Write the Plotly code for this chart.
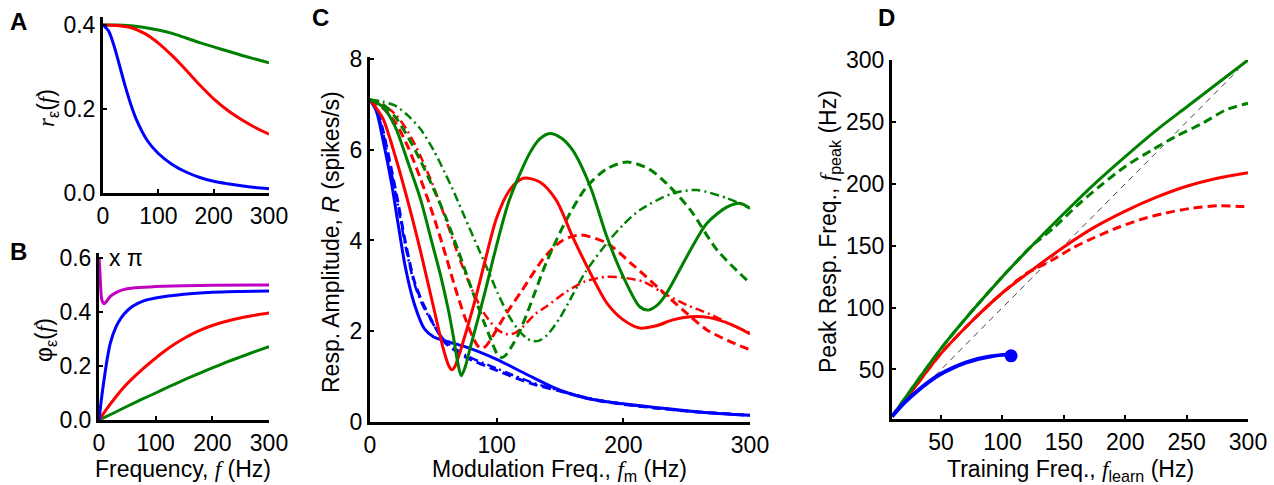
import plotly.graph_objects as go

# ---------------- Panel A : r_eps(f) ----------------
a_f = [0, 10, 20, 30, 40, 50, 60, 80, 100, 125, 150, 175, 200, 225, 250, 275, 300]
a_blue = [0.400, 0.386, 0.350, 0.303, 0.255, 0.212, 0.176, 0.125, 0.094, 0.068, 0.050, 0.037, 0.028, 0.022, 0.017, 0.013, 0.010]
a_f2 = [0, 25, 50, 75, 100, 125, 150, 175, 200, 225, 250, 275, 300]
a_red = [0.400, 0.399, 0.394, 0.380, 0.357, 0.327, 0.293, 0.257, 0.224, 0.197, 0.175, 0.156, 0.140]
a_green = [0.400, 0.400, 0.398, 0.394, 0.388, 0.380, 0.369, 0.358, 0.348, 0.338, 0.328, 0.319, 0.310]

# ---------------- Panel B : phi_eps(f) (x pi) ----------------
b_mag_f = [0, 1, 2, 3, 4, 5, 7, 9, 12, 16, 20, 30, 43, 60, 90, 150, 200, 300]
b_mag = [0.60, 0.57, 0.53, 0.49, 0.46, 0.445, 0.435, 0.431, 0.436, 0.447, 0.458, 0.472, 0.483, 0.489, 0.493, 0.497, 0.499, 0.500]
b_blue_f = [0, 5, 10, 15, 20, 30, 40, 50, 60, 80, 100, 150, 200, 250, 300]
b_blue = [0.0, 0.090, 0.165, 0.232, 0.285, 0.345, 0.381, 0.405, 0.422, 0.442, 0.452, 0.466, 0.473, 0.476, 0.478]
b_red_f = [0, 15, 31, 45, 60, 75, 90, 105, 119, 135, 149, 165, 178, 200, 237, 270, 300]
b_red = [0.0, 0.045, 0.089, 0.124, 0.156, 0.185, 0.212, 0.238, 0.260, 0.283, 0.301, 0.319, 0.332, 0.350, 0.372, 0.386, 0.396]
b_green_f = [0, 25, 50, 75, 100, 125, 150, 175, 200, 225, 250, 275, 300]
b_green = [0.0, 0.025, 0.051, 0.076, 0.100, 0.125, 0.149, 0.171, 0.193, 0.214, 0.234, 0.253, 0.272]

# ---------------- Panel C : response amplitude R(f_m) ----------------
c_blue_f = [0, 5, 10, 17, 22, 28, 35, 43, 50, 60, 75, 100, 125, 150, 175, 200, 225, 250, 275, 300]
c_blue_solid = [7.1, 6.85, 6.25, 5.26, 4.4, 3.4, 2.6, 2.05, 1.88, 1.78, 1.66, 1.38, 1.03, 0.70, 0.50, 0.40, 0.32, 0.25, 0.19, 0.15]
c_blue_f2 = [0, 5, 10, 17, 22, 28, 35, 42, 49, 59, 75, 100, 127, 150, 175, 200, 225, 250, 275, 300]
c_blue_dash = [7.1, 6.9, 6.45, 5.55, 4.85, 3.95, 3.1, 2.6, 2.22, 1.76, 1.44, 1.14, 0.85, 0.68, 0.50, 0.39, 0.31, 0.24, 0.19, 0.15]
c_blue_dashdot = [7.1, 6.88, 6.4, 5.48, 4.78, 3.88, 3.05, 2.55, 2.2, 1.79, 1.48, 1.18, 0.88, 0.69, 0.51, 0.40, 0.31, 0.24, 0.19, 0.15]

c_red_solid_f = [0, 10, 20, 30, 40, 50, 58, 62, 64.5, 67, 70, 76, 83, 91, 100, 110, 121, 134, 147, 160, 174, 187, 200, 213, 226, 239, 253, 268, 285, 300]
c_red_solid = [7.1, 6.7, 5.85, 4.85, 3.75, 2.55, 1.6, 1.25, 1.15, 1.22, 1.45, 2.0, 2.69, 3.57, 4.5, 5.1, 5.37, 5.29, 4.89, 4.08, 3.28, 2.62, 2.25, 2.07, 2.12, 2.25, 2.32, 2.3, 2.15, 1.94]
c_red_dash_f = [0, 10, 20, 30, 40, 50, 60, 67, 75, 81, 85, 88, 91, 96, 106, 120, 138, 152, 166, 187, 208, 229, 247, 266, 282, 300]
c_red_dash = [7.1, 6.92, 6.6, 6.06, 5.35, 4.55, 3.65, 2.98, 2.3, 1.88, 1.68, 1.62, 1.66, 1.85, 2.32, 2.9, 3.64, 4.0, 4.12, 3.94, 3.45, 2.92, 2.47, 2.03, 1.8, 1.59]
c_red_dd_f = [0, 10, 20, 30, 40, 50, 60, 70, 80, 90, 100, 106, 110, 115, 120, 131, 139, 155, 170, 187, 200, 216, 231, 250, 268, 285, 300]
c_red_dashdot = [7.1, 7.0, 6.78, 6.4, 5.85, 5.2, 4.45, 3.65, 2.95, 2.4, 2.05, 1.95, 1.93, 1.97, 2.08, 2.39, 2.54, 2.87, 3.1, 3.2, 3.18, 3.09, 2.85, 2.58, 2.38, 2.15, 1.96]

c_green_solid_f = [0, 10, 20, 30, 40, 48, 56, 62, 66, 69, 72, 75, 80, 86, 92, 99, 110, 126, 134, 142, 151, 160, 174, 187, 200, 213, 220, 227, 234, 253, 266, 282, 292, 300]
c_green_solid = [7.1, 6.95, 6.5, 5.72, 4.9, 4.05, 3.2, 2.45, 1.85, 1.35, 1.02, 1.2, 1.73, 2.35, 3.0, 3.79, 4.89, 5.92, 6.24, 6.36, 6.26, 5.99, 5.18, 4.08, 3.2, 2.54, 2.47, 2.58, 2.83, 3.79, 4.38, 4.74, 4.82, 4.71]
c_green_dash_f = [0, 10, 20, 30, 40, 50, 60, 70, 80, 90, 96, 100, 104, 108, 113, 118, 126, 139, 155, 171, 187, 203, 220, 234, 253, 274, 300]
c_green_dash = [7.1, 7.0, 6.72, 6.28, 5.75, 5.15, 4.5, 3.75, 2.95, 2.2, 1.78, 1.52, 1.42, 1.5, 1.72, 1.98, 2.54, 3.5, 4.45, 5.18, 5.58, 5.73, 5.58, 5.26, 4.67, 3.79, 3.06]
c_green_dd_f = [0, 10, 20, 30, 40, 50, 59, 67, 75, 85, 93, 101, 110, 118, 124, 129, 134, 140, 150, 160, 170, 187, 200, 213, 239, 258, 282, 300]
c_green_dashdot = [7.1, 7.06, 6.97, 6.75, 6.45, 6.0, 5.5, 5.02, 4.5, 3.86, 3.35, 2.83, 2.32, 2.0, 1.84, 1.78, 1.8, 1.92, 2.3, 2.8, 3.3, 3.94, 4.35, 4.67, 5.04, 5.11, 4.93, 4.71]

# ---------------- Panel D : peak response frequency vs training frequency ----------------
d_green_f = [10, 25, 50, 75, 100, 125, 150, 175, 200, 225, 250, 275, 300]
d_green_solid = [12, 33, 67, 97, 125, 151, 176, 200, 222, 243, 262, 281, 300]
d_green_dash_f = [10, 25, 50, 75, 100, 125, 131, 143, 160, 179, 200, 222, 241, 263, 282, 300]
d_green_dash = [12, 33, 67, 97, 125, 151, 155.5, 165.6, 181.7, 197.8, 214, 227.4, 238.1, 248.9, 259.7, 265]
d_red_f = [10, 25, 50, 75, 100, 125, 150, 175, 200, 225, 250, 275, 300]
d_red_solid = [12, 31, 63, 89, 112, 131, 149, 165, 178, 189, 198, 204.5, 209]
d_red_dash_f = [10, 25, 50, 75, 100, 120, 125, 141, 157, 174, 193, 212, 233, 255, 277, 293, 300]
d_red_dash = [12, 31, 63, 89, 112, 128, 130.5, 138.7, 148.1, 156.2, 164.3, 171, 176.4, 180.4, 182.3, 181.7, 181.5]
d_blue_f = [10, 20, 30, 40, 50, 60, 70, 80, 90, 100, 105]
d_blue = [12, 23, 32, 40, 46.5, 51.5, 55.5, 58.5, 60.5, 61.8, 62]
d_blue_end = [107, 61]
d_diag = [45, 292]

BLUE = "#0000FF"
RED = "#FF0000"
GREEN = "#008000"
MAG = "#C000C0"
DASH = "9px,5px"
DASHDOT = "9px,4px,2px,4px"
FONT = "Liberation Sans, Arial, sans-serif"
W, H = 1274, 485
TICK_SIZE = 23
TITLE_SIZE = 23

fig = go.Figure()


def add(x, y, color, ax, dash="solid", width=3.0, shape="spline"):
    fig.add_trace(go.Scatter(
        x=x, y=y, mode="lines", xaxis="x" + ax, yaxis="y" + ax,
        line=dict(color=color, width=width, dash=dash, shape=shape, smoothing=0.8),
        showlegend=False, hoverinfo="skip"))


# A
add(a_f2, a_green, GREEN, "")
add(a_f2, a_red, RED, "")
add(a_f, a_blue, BLUE, "")
# B
add(b_green_f, b_green, GREEN, "2")
add(b_red_f, b_red, RED, "2")
add(b_blue_f, b_blue, BLUE, "2")
add(b_mag_f, b_mag, MAG, "2")
# C
add(c_blue_f2, c_blue_dashdot, BLUE, "3", DASHDOT, 2.5)
add(c_blue_f2, c_blue_dash, BLUE, "3", DASH)
add(c_blue_f, c_blue_solid, BLUE, "3")
add(c_red_dd_f, c_red_dashdot, RED, "3", DASHDOT, 2.5)
add(c_red_dash_f, c_red_dash, RED, "3", DASH)
add(c_green_dd_f, c_green_dashdot, GREEN, "3", DASHDOT, 2.5)
add(c_green_dash_f, c_green_dash, GREEN, "3", DASH)
add(c_red_solid_f, c_red_solid, RED, "3")
add(c_green_solid_f, c_green_solid, GREEN, "3")
# D
fig.add_trace(go.Scatter(x=d_diag, y=d_diag, mode="lines", xaxis="x4", yaxis="y4",
                         line=dict(color="#444444", width=1, dash="6px,5px"),
                         showlegend=False, hoverinfo="skip"))
add(d_red_dash_f, d_red_dash, RED, "4", DASH)
add(d_red_f, d_red_solid, RED, "4")
add(d_green_dash_f, d_green_dash, GREEN, "4", DASH)
add(d_green_f, d_green_solid, GREEN, "4")
add(d_blue_f, d_blue, BLUE, "4", width=4)
fig.add_trace(go.Scatter(x=[d_blue_end[0]], y=[d_blue_end[1]], mode="markers", xaxis="x4", yaxis="y4",
                         marker=dict(color=BLUE, size=13), showlegend=False, hoverinfo="skip"))


def px_x(p):
    return p / W


def px_y(p):
    return 1 - p / H


def axis(domain, rng, tickvals, ticktext=None, anchor=None):
    d = dict(domain=domain, range=rng, tickvals=tickvals, showline=True, linecolor="black",
             linewidth=3, ticks="inside", ticklen=4, tickwidth=2, tickcolor="black",
             showgrid=False, zeroline=False, fixedrange=True, automargin=False,
             tickfont=dict(family=FONT, size=TICK_SIZE, color="black"), anchor=anchor)
    if ticktext is not None:
        d["ticktext"] = ticktext
    return d


layout = dict(
    width=W, height=H, autosize=False, margin=dict(l=0, r=0, t=0, b=0, pad=0),
    paper_bgcolor="white", plot_bgcolor="white", showlegend=False,
    xaxis=axis([px_x(103), px_x(269)], [0, 300], [0, 100, 200, 300], anchor="y"),
    yaxis=axis([px_y(193), px_y(16.6)], [0, 0.42], [0, 0.2, 0.4], ["0.0", "0.2", "0.4"], anchor="x"),
    xaxis2=axis([px_x(99), px_x(269)], [0, 300], [0, 100, 200, 300], anchor="y2"),
    yaxis2=axis([px_y(420), px_y(252.6)], [0, 0.62], [0, 0.2, 0.4, 0.6], ["0.0", "0.2", "0.4", "0.6"], anchor="x2"),
    xaxis3=axis([px_x(370), px_x(750)], [0, 300], [0, 100, 200, 300], anchor="y3"),
    yaxis3=axis([px_y(422), px_y(56.7)], [0, 8.05], [0, 2, 4, 6, 8], anchor="x3"),
    xaxis4=axis([px_x(892), px_x(1248)], [10, 300], [50, 100, 150, 200, 250, 300], anchor="y4"),
    yaxis4=axis([px_y(419), px_y(60)], [10, 300], [50, 100, 150, 200, 250, 300], anchor="x4"),
)
fig.update_layout(**layout)

SERIF_F = '<span style="font-family:Liberation Serif"><i>f</i></span>'


def note(text, x, y, size=TITLE_SIZE, angle=0, bold=False):
    fig.add_annotation(text=("<b>%s</b>" % text) if bold else text,
                       xref="paper", yref="paper", x=px_x(x), y=px_y(y),
                       xanchor="center", yanchor="middle", showarrow=False, textangle=angle,
                       font=dict(family=FONT, size=size, color="black"))


note("A", 18, 22, 24, bold=True)
note("B", 18, 251, 24, bold=True)
note("C", 320, 18, 24, bold=True)
note("D", 886, 18, 24, bold=True)

note('<span style="font-family:Liberation Serif"><i>r</i></span><sub>ε</sub>(' + SERIF_F + ')', 47, 108, angle=-90)
note('φ<sub>ε</sub>(' + SERIF_F + ')', 45, 340, angle=-90)
note("x π", 126, 258)
note("Frequency, " + SERIF_F + " (Hz)", 183, 469)

note("Modulation Freq., " + SERIF_F + "<sub>m</sub> (Hz)", 559, 470)
note('Resp. Amplitude, <i>R</i> (spikes/s)', 331, 242, angle=-90)

note("Training Freq., " + SERIF_F + "<sub>learn</sub> (Hz)", 1070, 470)
note("Peak Resp. Freq., " + SERIF_F + "<sub>peak</sub> (Hz)", 829, 232, angle=-90)

fig.write_html(
    "out.html",
    config={"displayModeBar": False, "responsive": False},
    post_script="document.body.style.margin='0px';document.body.style.padding='0px';"
                "document.documentElement.style.overflow='hidden';document.body.style.overflow='hidden';",
)
